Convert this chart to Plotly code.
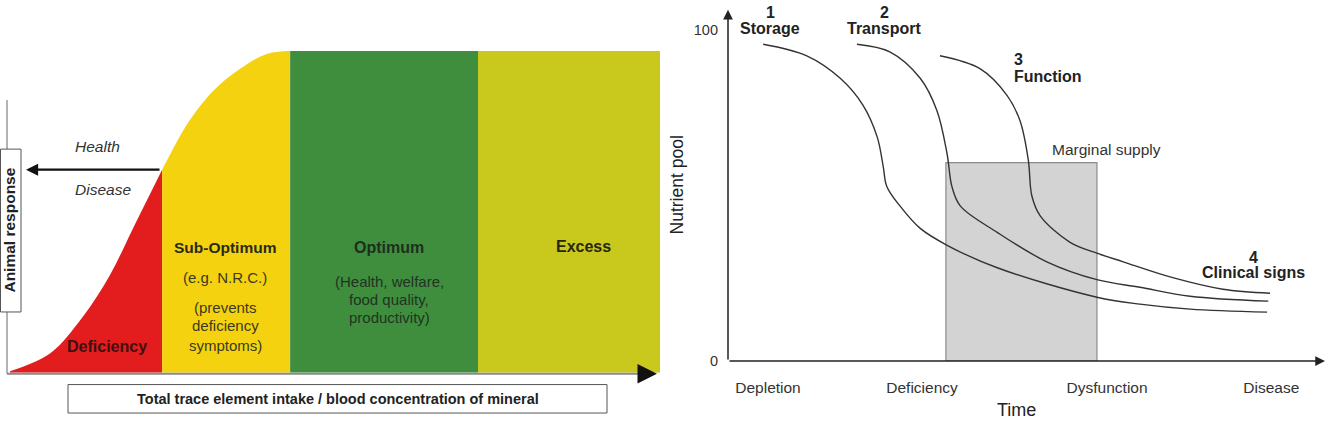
import plotly.graph_objects as go

W, H = 1332, 422
FONT = "Liberation Sans, Arial, sans-serif"

# ---------------- Left panel data (intake 0-100, response 0-100) ----------------
zone_names = ["Deficiency", "Sub-Optimum", "Optimum", "Excess"]
zone_edges = [0, 23.4, 43.1, 72.0, 100]
zone_colors = ["#e31c1d", "#f5d20f", "#3f8e3e", "#c8c91c"]
deficiency_x = [0, 6.2, 11.2, 15.4, 18.9, 23.4]
deficiency_y = [0.5, 6.1, 17.4, 30.5, 44.8, 63.1]
suboptimum_x = [23.4, 24.2, 27.2, 31.2, 35.4, 39.5, 43.1]
suboptimum_y = [63.1, 66.2, 77.1, 87.5, 94.5, 99.1, 100]
plateau_y = 100

# ---------------- Right panel data (time 0-100, nutrient pool 0-100) ----------------
storage_t = [5.9, 13.2, 18.8, 22.6, 25.0, 26.0, 26.6, 28.8, 32.2, 36.7, 45.1, 61.8, 69.0, 77.4, 90.3]
storage_v = [95.8, 92.3, 85.5, 77.4, 67.7, 58.8, 52.8, 46.9, 40.1, 35.0, 28.2, 19.3, 17.2, 15.7, 14.8]
transport_t = [21.6, 27.1, 32.2, 35.0, 36.7, 37.5, 38.9, 45.1, 53.4, 61.8, 69.0, 77.4, 90.5]
transport_v = [95.8, 93.5, 85.5, 75.7, 62.6, 52.8, 46.9, 38.9, 30.0, 24.6, 22.3, 19.6, 18.1]
function_t = [35.5, 42.2, 46.7, 48.9, 50.3, 50.9, 52.3, 57.3, 61.8, 66.2, 74.5, 82.9, 90.8]
function_v = [92.3, 88.4, 80.4, 72.7, 60.8, 49.9, 43.9, 35.9, 32.6, 30.0, 25.2, 21.7, 20.5]
marginal_t = [36.5, 61.8]
marginal_v = 60
stage_ticks = [6.7, 32.5, 63.5, 91.0]
stage_labels = ["Depletion", "Deficiency", "Dysfunction", "Disease"]
pool_ticks = [0, 100]
pool_labels = ["0", "100"]


def px(x):
    return x / W


def py(y):
    return 1 - y / H


fig = go.Figure()

# Left panel zones
fig.add_trace(go.Scatter(x=deficiency_x, y=deficiency_y, mode="lines", line=dict(width=0, shape="spline", color=zone_colors[0]),
                         fill="tozeroy", fillcolor=zone_colors[0], xaxis="x", yaxis="y", hoverinfo="skip"))
fig.add_trace(go.Scatter(x=suboptimum_x, y=suboptimum_y, mode="lines", line=dict(width=0, shape="spline", color=zone_colors[1]),
                         fill="tozeroy", fillcolor=zone_colors[1], xaxis="x", yaxis="y", hoverinfo="skip"))
for i in (2, 3):
    fig.add_trace(go.Scatter(x=[zone_edges[i], zone_edges[i + 1]], y=[plateau_y, plateau_y], mode="lines",
                             line=dict(width=0, color=zone_colors[i]), fill="tozeroy", fillcolor=zone_colors[i],
                             xaxis="x", yaxis="y", hoverinfo="skip"))

# Right panel marginal supply box
fig.add_trace(go.Scatter(x=[marginal_t[0], marginal_t[1], marginal_t[1], marginal_t[0], marginal_t[0]],
                         y=[0, 0, marginal_v, marginal_v, 0], mode="lines", fill="toself", fillcolor="#d3d3d3",
                         line=dict(color="#8a8a8a", width=1.2), xaxis="x2", yaxis="y2", hoverinfo="skip"))
for t, v in ((storage_t, storage_v), (transport_t, transport_v), (function_t, function_v)):
    fig.add_trace(go.Scatter(x=t, y=v, mode="lines", line=dict(color="#333333", width=1.4, shape="spline", smoothing=1.0),
                             xaxis="x2", yaxis="y2", hoverinfo="skip"))

shapes = [
    # left vertical axis (gray)
    dict(type="line", xref="paper", yref="paper", x0=px(7), x1=px(7), y0=py(102), y1=py(381), line=dict(color="#9a9a9a", width=1.5)),
    # left bottom axis (gray)
    dict(type="line", xref="paper", yref="paper", x0=px(7), x1=px(645), y0=py(381), y1=py(381), line=dict(color="#8a8a8a", width=2)),
    # animal response box
    dict(type="rect", xref="paper", yref="paper", x0=px(0.5), x1=px(21), y0=py(318), y1=py(152), fillcolor="white", line=dict(color="#555", width=1)),
    # bottom label box
    dict(type="rect", xref="paper", yref="paper", x0=px(68), x1=px(607), y0=py(421), y1=py(392), fillcolor="white", line=dict(color="#555", width=1)),
]


def txt(x, y, s, size, color="#222", bold=False, italic=False, angle=0, xanchor="center"):
    if bold:
        s = f"<b>{s}</b>"
    if italic:
        s = f"<i>{s}</i>"
    return dict(x=px(x), y=py(y), xref="paper", yref="paper", text=s, showarrow=False, textangle=angle,
                xanchor=xanchor, yanchor="middle", font=dict(family=FONT, size=size, color=color))


ann = [
    # Left panel
    txt(10, 235, "Animal response", 15.5, "#222", bold=True, angle=-90),
    txt(97, 149, "Health", 15.5, "#333", italic=True),
    txt(103, 193, "Disease", 15.5, "#333", italic=True),
    txt(107, 353, zone_names[0], 16, "#3a1212", bold=True),
    txt(225, 252, zone_names[1], 15.5, "#2a2a1a", bold=True),
    txt(225, 283, "(e.g. N.R.C.)", 15, "#3a3a20"),
    txt(225, 313, "(prevents", 15, "#3a3a20"),
    txt(225, 332, "deficiency", 15, "#3a3a20"),
    txt(225, 352, "symptoms)", 15, "#3a3a20"),
    txt(389, 252, zone_names[2], 16, "#1e2e1e", bold=True),
    txt(389, 287, "(Health, welfare,", 15, "#223322"),
    txt(389, 305, "food quality,", 15, "#223322"),
    txt(389, 324, "productivity)", 15, "#223322"),
    txt(583, 251, zone_names[3], 16, "#262610", bold=True),
    txt(338, 407, "Total trace element intake / blood concentration of mineral", 14.5, "#222", bold=True),
    # Health/Disease arrow
    dict(x=px(26), y=py(173), xref="paper", yref="paper", ax=135, ay=0, showarrow=True, arrowhead=2,
         arrowsize=1.1, arrowwidth=2.2, arrowcolor="#111", text=""),
    # bottom axis arrowhead
    dict(x=px(657), y=py(381), xref="paper", yref="paper", ax=-14, ay=0, showarrow=True, arrowhead=2,
         arrowsize=1.3, arrowwidth=3, arrowcolor="#111", text=""),
    # Right panel axes with arrows
    dict(x=100, y=0, xref="x2", yref="y2", ax=0, ay=0, axref="x2", ayref="y2", showarrow=True, arrowhead=2,
         arrowsize=1.3, arrowwidth=1.5, arrowcolor="#222", text=""),
    dict(x=0, y=106.2, xref="x2", yref="y2", ax=0, ay=0, axref="x2", ayref="y2", showarrow=True, arrowhead=2,
         arrowsize=1.3, arrowwidth=1.5, arrowcolor="#222", text=""),
    # Right panel labels
    txt(770, 13, "1", 16, "#222", bold=True),
    txt(770, 29, "Storage", 16, "#222", bold=True),
    txt(884, 13, "2", 16, "#222", bold=True),
    txt(884, 29, "Transport", 16, "#222", bold=True),
    txt(1012, 61, "3", 16, "#222", bold=True, xanchor="left"),
    txt(1012, 78, "Function", 16, "#222", bold=True, xanchor="left"),
    txt(1253, 262, "4", 16, "#222", bold=True),
    txt(1253, 278, "Clinical signs", 16, "#222", bold=True),
    txt(1106, 152, "Marginal supply", 15.5, "#333"),
    txt(677, 188, "Nutrient pool", 17.5, "#222", angle=-90),
    txt(1016, 418, "Time", 18, "#222"),
]

fig.update_layout(
    width=W, height=H, margin=dict(l=0, r=0, t=0, b=0),
    paper_bgcolor="white", plot_bgcolor="rgba(0,0,0,0)", showlegend=False,
    xaxis=dict(domain=[px(10), px(660)], range=[0, 100], visible=False, fixedrange=True),
    yaxis=dict(domain=[py(380), py(52)], range=[0, 100], visible=False, fixedrange=True),
    xaxis2=dict(domain=[px(728), px(1325)], range=[0, 100], anchor="y2", showgrid=False, zeroline=False, showline=False,
                ticks="", tickvals=stage_ticks, ticktext=stage_labels, ticklabelstandoff=15,
                tickfont=dict(family=FONT, size=15.5, color="#333")),
    yaxis2=dict(domain=[py(368), py(10)], range=[0, 106.2], anchor="x2", showgrid=False, zeroline=False, showline=False,
                ticks="", tickvals=pool_ticks, ticktext=pool_labels, ticklabelstandoff=9,
                tickfont=dict(family=FONT, size=14.5, color="#333")),
    shapes=shapes,
    annotations=ann,
)

fig.write_html("out.html")
